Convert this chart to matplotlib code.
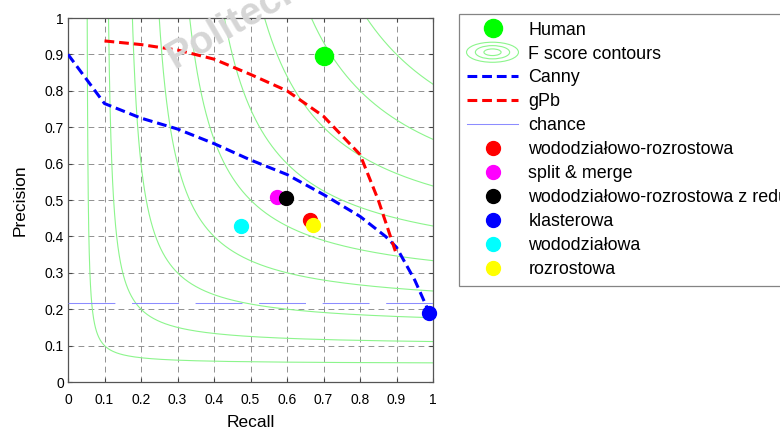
import numpy as np
import matplotlib
matplotlib.use("Agg")
import matplotlib.pyplot as plt
from matplotlib.lines import Line2D
from matplotlib.patches import Ellipse
from matplotlib.legend_handler import HandlerBase

plt.rcParams['font.family'] = ['Liberation Sans', 'DejaVu Sans']

# Precision / recall curves
canny_recall = [0.0, 0.10, 0.20, 0.30, 0.40, 0.50, 0.60, 0.70, 0.80, 0.87, 0.90, 0.95, 0.99]
canny_precision = [0.90, 0.765, 0.725, 0.695, 0.655, 0.61, 0.57, 0.515, 0.455, 0.40, 0.37, 0.28, 0.19]

gpb_recall = [0.10, 0.20, 0.30, 0.40, 0.50, 0.60, 0.70, 0.80, 0.85, 0.90]
gpb_precision = [0.937, 0.927, 0.912, 0.887, 0.845, 0.80, 0.73, 0.625, 0.50, 0.35]

# Single operating points of the segmentation methods
methods = ["wododziałowo-rozrostowa", "split & merge",
           "wododziałowo-rozrostowa z redukcją", "klasterowa",
           "wododziałowa", "rozrostowa"]
method_recall = [0.663, 0.572, 0.597, 0.99, 0.474, 0.672]
method_precision = [0.445, 0.509, 0.506, 0.19, 0.429, 0.431]
method_colors = ["#ff0000", "#ff00ff", "#000000", "#0000ff", "#00ffff", "#ffff00"]

human_recall = 0.70
human_precision = 0.896

chance_level = 0.218
f_levels = [0.1, 0.2, 0.3, 0.4, 0.5, 0.6, 0.7, 0.8, 0.9]

tick_values = [0, 0.1, 0.2, 0.3, 0.4, 0.5, 0.6, 0.7, 0.8, 0.9, 1]
tick_labels = ["0", "0.1", "0.2", "0.3", "0.4", "0.5", "0.6", "0.7", "0.8", "0.9", "1"]

contour_color = "#8cf58c"
chance_color = "#8c8cff"


class EllipseHandler(HandlerBase):
    def create_artists(self, legend, orig_handle, xdescent, ydescent,
                       width, height, fontsize, trans):
        cx = width / 2 - xdescent
        cy = height / 2 - ydescent
        arts = []
        for s in (1.0, 0.66, 0.33):
            e = Ellipse((cx, cy), width * s, height * 1.6 * s, fill=False,
                        edgecolor=contour_color, linewidth=0.8, transform=trans)
            arts.append(e)
        return arts


fig = plt.figure(figsize=(7.8, 4.3), dpi=100)
ax = fig.add_axes([68 / 780, 48 / 430, 365 / 780, 364 / 430])

# watermark
fig.text(160 / 780, 1 - 68 / 430, "Politechnika", rotation=30, fontsize=28,
         fontweight="bold", color="#d6d6d6", ha="left", va="baseline",
         zorder=0)
ax.set_facecolor("none")

ax.set_xlim(0, 1)
ax.set_ylim(0, 1)
ax.set_xticks(tick_values)
ax.set_xticklabels(tick_labels)
ax.set_yticks(tick_values)
ax.set_yticklabels(tick_labels)
ax.tick_params(direction="in", length=3, labelsize=10, top=True, right=True,
               color="#444444")
ax.tick_params(axis="x", pad=8)
ax.tick_params(axis="y", pad=3)
for sp in ax.spines.values():
    sp.set_color("#555555")
    sp.set_linewidth(0.9)
ax.grid(True, color="#808080", linewidth=0.6, linestyle=(0, (7, 5)))
ax.set_axisbelow(True)

# F-measure iso-lines, sampled along precision so the steep branch is smooth
for f in f_levels:
    p = np.linspace(f / (2 - f), 1, 1000)
    r = f * p / (2 * p - f)
    ax.plot(r, p, color=contour_color, linewidth=0.8, zorder=2)

ax.plot([0, 1], [chance_level, chance_level], color=chance_color, linewidth=0.75,
        linestyle=(0, (45, 16)), zorder=3, snap=True)
ax.plot(canny_recall, canny_precision, color="#0000ff", linewidth=2.2,
        linestyle=(0, (3.2, 1.6)), zorder=4)
ax.plot(gpb_recall, gpb_precision, color="#ff0000", linewidth=2.2,
        linestyle=(0, (3.2, 1.6)), zorder=5)

for r, p, c in zip(method_recall, method_precision, method_colors):
    ax.plot(r, p, "o", color=c, markersize=10, zorder=6, clip_on=False)
ax.plot(human_recall, human_precision, "o", color="#00ff00", markersize=13, zorder=7)

ax.set_xlabel("Recall", fontsize=12.5, labelpad=6)
ax.set_ylabel("Precision", fontsize=12.5, labelpad=12)

contour_proxy = object()
handles = [
    Line2D([], [], linestyle="none", marker="o", color="#00ff00", markersize=13),
    contour_proxy,
    Line2D([], [], color="#0000ff", linewidth=2.2, linestyle=(0, (3.2, 1.6))),
    Line2D([], [], color="#ff0000", linewidth=2.2, linestyle=(0, (3.2, 1.6))),
    Line2D([], [], color=chance_color, linewidth=0.75),
]
labels = ["Human", "F score contours", "Canny", "gPb", "chance"]
for name, c in zip(methods, method_colors):
    handles.append(Line2D([], [], linestyle="none", marker="o", color=c, markersize=10))
    labels.append(name)

leg = fig.legend(handles, labels, loc="upper left",
                 bbox_to_anchor=(459 / 780, 1 - 14 / 430),
                 bbox_transform=fig.transFigure, borderaxespad=0,
                 fontsize=12.9, frameon=True, fancybox=False,
                 handlelength=2.9, handletextpad=0.55, labelspacing=0.39,
                 borderpad=0.42, handler_map={contour_proxy: EllipseHandler()})
leg.get_frame().set_edgecolor("#666666")
leg.get_frame().set_linewidth(0.9)

fig.savefig("out.png", dpi=100)
